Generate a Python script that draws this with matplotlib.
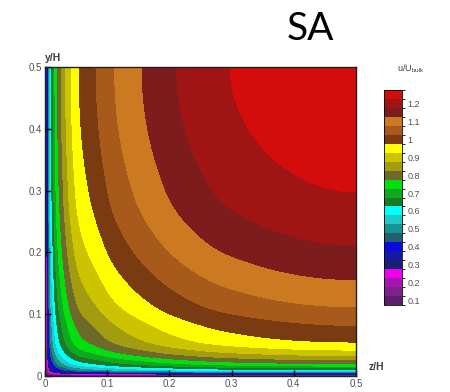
import numpy as np
import matplotlib
matplotlib.use("Agg")
import matplotlib.pyplot as plt
from matplotlib.colors import ListedColormap, BoundaryNorm
from matplotlib.cm import ScalarMappable

plt.rcParams["font.family"] = ["Liberation Sans", "DejaVu Sans"]

# streamwise velocity along the duct symmetry line vs. distance from the wall
wall_dist = [0.0, 0.0012, 0.0025, 0.0035, 0.005, 0.007, 0.010, 0.013, 0.016,
             0.020, 0.026, 0.033, 0.042, 0.055, 0.082, 0.112, 0.156, 0.212,
             0.298, 0.5]
u_center = [0.0, 0.1, 0.2, 0.3, 0.4, 0.5, 0.6, 0.65, 0.7,
            0.75, 0.8, 0.85, 0.9, 0.95, 1.0, 1.05, 1.10, 1.15,
            1.20, 1.24]

levels = np.round(np.arange(0.05, 1.2501, 0.05), 2)
band_colors = [
    "#5c1f6e", "#80208e", "#a416b0", "#f000f0",   # purples
    "#1c2070", "#1616a8", "#0a0ae0",              # blues
    "#20606e", "#169494", "#20c8c8", "#00ffff",   # teals
    "#1a7a28", "#10a820", "#00e010",              # greens
    "#6e6a2c", "#a49c10", "#ccc400", "#ffff00",   # olives / yellow
    "#7a3a12", "#a85a1a", "#cc7a22",              # browns
    "#7c1c1c", "#a01414", "#d40c0c",              # reds
]
cbar_ticks = [0.1, 0.2, 0.3, 0.4, 0.5, 0.6, 0.7, 0.8, 0.9, 1.0, 1.1, 1.2]
cbar_labels = ["0.1", "0.2", "0.3", "0.4", "0.5", "0.6", "0.7", "0.8",
               "0.9", "1", "1.1", "1.2"]
axis_ticks = [0, 0.1, 0.2, 0.3, 0.4, 0.5]
axis_labels = ["0", "0.1", "0.2", "0.3", "0.4", "0.5"]


def pchip(x, y, xq, end_slope=None):
    """Monotone piecewise cubic Hermite interpolation (Fritsch-Carlson)."""
    x = np.asarray(x, float)
    y = np.asarray(y, float)
    h = np.diff(x)
    delta = np.diff(y) / h
    m = np.zeros_like(y)
    for k in range(1, len(x) - 1):
        if delta[k - 1] * delta[k] > 0:
            w1 = 2 * h[k] + h[k - 1]
            w2 = h[k] + 2 * h[k - 1]
            m[k] = (w1 + w2) / (w1 / delta[k - 1] + w2 / delta[k])
    m[0], m[-1] = delta[0], delta[-1]
    if end_slope is not None:
        m[-1] = end_slope
    i = np.clip(np.searchsorted(x, xq) - 1, 0, len(h) - 1)
    t = (xq - x[i]) / h[i]
    h00 = 2 * t**3 - 3 * t**2 + 1
    h10 = t**3 - 2 * t**2 + t
    h01 = -2 * t**3 + 3 * t**2
    h11 = t**3 - t**2
    return h00 * y[i] + h10 * h[i] * m[i] + h01 * y[i + 1] + h11 * h[i] * m[i + 1]


def profile(d):
    """Velocity at wall distance d; log-distance interpolation, flat at centre."""
    d = np.asarray(d, float)
    out = np.empty_like(d)
    d1 = wall_dist[1]
    inner = d < d1
    out[inner] = u_center[1] * d[inner] / d1
    out[~inner] = pchip(np.log(wall_dist[1:]), u_center[1:],
                        np.log(d[~inner]), end_slope=0.0)
    return out


# quarter of the duct cross-section, grid clustered toward the walls
s = np.linspace(0.0, 1.0, 800)
d = 0.5 * s ** 3
g = profile(d)
U = g[:, None] * g[None, :] / u_center[-1]
Z, Y = np.meshgrid(d, d)

cmap = ListedColormap(band_colors)
cmap.set_under(band_colors[0])
norm = BoundaryNorm(levels, cmap.N)

fig = plt.figure(figsize=(4.5, 3.92), dpi=100)
ax = fig.add_axes([0.1, 0.0408, 0.691, 0.788])
ax.contourf(Z, Y, U, levels=levels, cmap=cmap, norm=norm, extend="min")
ax.set_xlim(0, 0.5)
ax.set_ylim(0, 0.5)
ax.set_xticks(axis_ticks)
ax.set_xticklabels(axis_labels)
ax.set_yticks(axis_ticks)
ax.set_yticklabels(axis_labels)
ax.tick_params(direction="in", length=4, width=1, color="black",
               labelsize=7, labelcolor="#505050", pad=2)
for sp in ax.spines.values():
    sp.set_linewidth(1.0)
    sp.set_color("#202020")

ax.text(0.0, 1.012, "y/H", transform=ax.transAxes, fontsize=7.5,
        color="#404040", ha="left", va="bottom", fontweight="bold")
ax.text(1.04, 0.028, "z/H", transform=ax.transAxes, fontsize=7.5,
        color="#404040", ha="left", va="center", fontweight="bold")

fig.text(310 / 450, 1 - 29 / 392, "SA", fontsize=28, family="Lato",
         ha="center", va="center", color="black")

cax = fig.add_axes([384 / 450, 87 / 392, 18 / 450, 215 / 392])
cb = fig.colorbar(ScalarMappable(norm=norm, cmap=cmap), cax=cax)
cb.set_ticks([t - 0.025 for t in cbar_ticks])
cb.set_ticklabels(cbar_labels)
cb.ax.tick_params(length=0, labelsize=6.5, labelcolor="#505050", pad=4)
cb.outline.set_linewidth(0.6)
fig.text(411 / 450, 1 - 69 / 392, r"u/U$_{\mathregular{bulk}}$",
         fontsize=6.5, color="#404040", ha="center", va="center")

fig.savefig("out.png", dpi=100)
